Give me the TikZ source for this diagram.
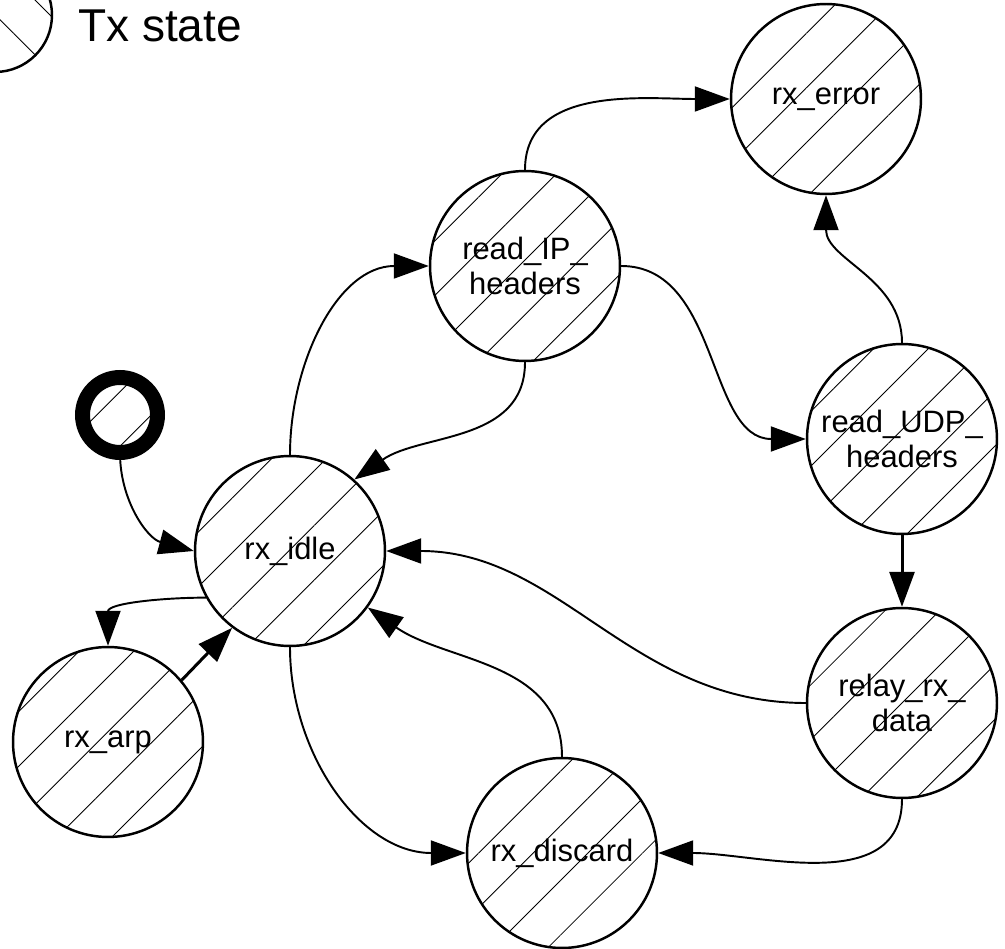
\documentclass[tikz,border=0pt]{standalone}
\usepackage{fontspec}
\setmainfont{Liberation Sans}
\usetikzlibrary{arrows.meta,patterns.meta}

\tikzset{
	rxstate/.style={circle, draw, line width=1.4pt, minimum size=3.8cm, inner sep=0pt, align=center,
		font=\fontsize{17.6}{19.9}\selectfont, pattern={Lines[angle=45,distance=22pt,line width=0.5pt]}},
	conn/.style={line width=1.1pt, -{Triangle[length=0.7cm,width=0.5cm]}},
	thickconn/.style={conn, line width=1.7pt}
}

\begin{document}
\begin{tikzpicture}[x=0.02cm, y=-0.02cm]
	\useasboundingbox (0,0) rectangle (1005,949);

	\node[circle, draw, line width=1.4pt, minimum size=2.28cm, inner sep=0pt,
		pattern={Lines[angle=-45,distance=22pt,line width=0.5pt]}] (legend) at (-5,15) {};
	\node[anchor=base west, font=\fontsize{26.2}{30}\selectfont] (legendtext) at (72,42) {Tx state};

	\node[circle, draw, line width=0.3cm, minimum size=1.5cm, inner sep=0pt,
		pattern={Lines[angle=45,distance=22pt,line width=0.5pt]}] (start) at (120,415) {};

	\node[rxstate] (error) at (826,99) {rx\_error};
	\node[rxstate] (readip) at (525,266) {read\_IP\_\\headers};
	\node[rxstate] (readudp) at (902,439) {read\_UDP\_\\headers};
	\node[rxstate] (idle) at (290,551) {rx\_idle};
	\node[rxstate] (relay) at (902,703) {relay\_rx\_\\data};
	\node[rxstate] (arp) at (108,742) {rx\_arp};
	\node[rxstate] (discard) at (562,853) {rx\_discard};

	\draw[conn] (start.south) to[out=-90,in=165] (idle.west);
	\draw[conn] (idle.north) to[out=90,in=180] (readip.west);
	\draw[conn] (readip.north) to[out=90,in=180] (error.west);
	\draw[conn] (readip.south) to[out=-90,in=35] (idle.48);
	\draw[conn] (readip.east) to[out=0,in=180] (readudp.west);
	\draw[conn] (readudp.north) to[out=90,in=-90] (error.south);
	\draw[thickconn] (readudp.south) -- (relay.north);
	\draw[conn] (relay.west) to[out=180,in=0] (idle.east);
	\draw[conn] (relay.south) to[out=-90,in=0] (discard.east);
	\draw[conn] (discard.north) to[out=90,in=-35] (idle.-36);
	\draw[conn] (idle.south) to[out=-90,in=180] (discard.west);
	\draw[conn] (idle.209) to[out=180,in=90] (arp.north);
	\draw[thickconn] (arp.40) -- (idle.233);
\end{tikzpicture}
\end{document}
